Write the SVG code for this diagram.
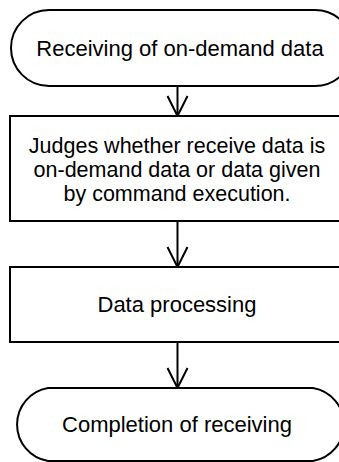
<svg xmlns="http://www.w3.org/2000/svg" width="339" height="462" viewBox="0 0 339 462">
<style>
.shape{fill:#fff;stroke:#000;stroke-width:2}
.conn{fill:none;stroke:#000;stroke-width:2}
.t{font-family:"Liberation Sans",Arial,sans-serif;font-size:22px;fill:#000;text-anchor:middle}
.m{font-size:21.5px}
</style>
<defs>
<marker id="arr" viewBox="-22 -12 24 24" refX="0" refY="0" markerWidth="24" markerHeight="24" markerUnits="userSpaceOnUse" orient="auto">
<path d="M-20,-10 L0,0 L-20,10" fill="none" stroke="#000" stroke-width="2"/>
</marker>
</defs>
<rect width="339" height="462" fill="#fff"/>
<g id="connectors">
<line class="conn" x1="177.5" y1="86" x2="177.5" y2="116" marker-end="url(#arr)"/>
<line class="conn" x1="177.5" y1="221" x2="177.5" y2="267" marker-end="url(#arr)"/>
<line class="conn" x1="177.5" y1="342" x2="177.5" y2="388" marker-end="url(#arr)"/>
</g>
<g id="start">
<path class="shape" d="M49,10 H315 A38,38 0 0 1 315,86 H49 A38,38 0 0 1 49,10 Z"/>
<text class="t" x="180" y="56">Receiving of on-demand data</text>
</g>
<g id="judge">
<rect class="shape" x="10" y="116" width="345" height="105"/>
<text class="t m" x="177" y="153">Judges whether receive data is</text>
<text class="t m" x="177" y="177.2">on-demand data or data given</text>
<text class="t m" x="177" y="201.4">by command execution.</text>
</g>
<g id="process">
<rect class="shape" x="10" y="267" width="345" height="75"/>
<text class="t" x="177" y="312">Data processing</text>
</g>
<g id="end">
<path class="shape" d="M48,388 H313 A37,37 0 0 1 313,461 H48 A37,37 0 0 1 48,388 Z"/>
<text class="t" x="177" y="432">Completion of receiving</text>
</g>
</svg>
